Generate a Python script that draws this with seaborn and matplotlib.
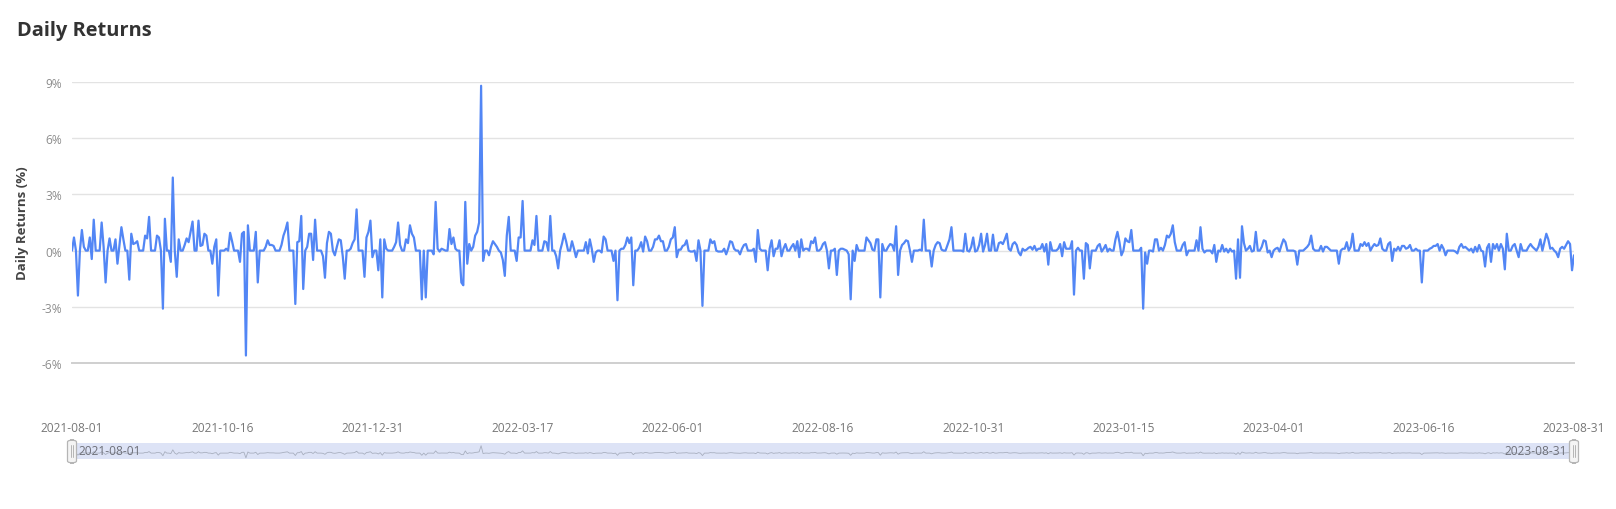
import seaborn as sns
import matplotlib.pyplot as plt
import matplotlib.dates as mdates
from matplotlib.patches import FancyBboxPatch
import pandas as pd
import numpy as np

# daily returns in % (2021-08-01 .. 2023-08-31)
returns_2021_q3 = [
    0, 0.7, 0, -2.4, 0, 1.1, 0.2, 0, 0, 0.7,
    -0.45, 1.65, 0, 0, 0, 1.5, 0.2, -1.7, 0, 0.65,
    0, 0, 0.6, -0.7, 0.3, 1.25, 0.6, 0, 0, -1.55,
    0.9, 0.35, 0.4, 0.5, 0, 0, 0, 0.8, 0.65, 1.8,
    0, 0, 0, 0.8, 0.7, 0, -3.1, 1.7, 0, 0,
    -0.6, 3.9, 0, -1.4, 0.6, 0, 0, 0.3, 0.65, 0.45,
    1.0, 1.55, 0, 0, 1.6, 0.25, 0.3, 0.9, 0.8, 0,
    0, -0.7, 0.2, 0.6, -2.4, 0, 0, 0, 0.1, 0,
    0.95, 0.5, 0, 0, 0, -0.6, 0.9, 1.0, -5.6, 1.35,
    0, 0, 0, 1.0, -1.7,
]
returns_2021_q4 = [
    0, 0, 0, 0.2, 0.55, 0.3, 0.3, 0.25, 0, 0,
    0, 0.3, 0.8, 1.1, 1.5, 0, 0, 0, -2.85, 0.45,
    0.5, 1.85, -2.05, 0, 0.2, 0.9, 0.9, -0.5, 1.65, 0,
    0, 0, -0.3, -1.45, 0.4, 1.0, 0.9, 0, -0.25, 0.2,
    0.6, 0.55, -0.3, -1.5, 0, 0, 0.1, 0.4, 0.6, 2.2,
    0, 0, 0, -1.4, 0.7, 1.0, 1.6, -0.35, 0, 0,
    -1.05, 0.6, -2.5, 0.6, 0.1, 0, 0, 0, 0.2, 0.45,
    1.5, 0.3, 0, 0, 0.6, 0.4, 1.35, 0.9, 0.7, 0,
    0, 0, -2.6, 0, -2.5, 0, 0, 0, -0.2, 2.6,
    0.1, -0.05, 0.1, 0.05, 0, 0, 1.15,
]
returns_2022_a = [
    0.35, 0.7, 0.1, 0, 0, -1.7, -1.85, 2.6, -0.7, 0.35,
    0, 0.2, 0.8, 1.0, 1.5, 8.8, -0.55, 0, 0, -0.25,
    0.2, 0.5, 0.35, 0.2, 0, -0.1, -0.5, -1.35, 0.8, 1.8,
    0, 0, 0, -0.55, 0.7, 0.7, 2.65, 0, 0, 0,
    0, 0.55, 0.3, 1.85, 0, 0, 0, 0.5, 0.45, 0,
    1.85, 0, 0, -0.3, -0.95, 0, 0.4, 0.9, 0.5, 0,
    0, 0.5, 0.1, -0.35, 0, 0, 0, 0, 0.45, -0.15,
    0.6, 0.1, -0.6, -0.1, 0, 0, -0.1, 0.75, 0.6, 0,
    0, 0, -0.55, 0, -2.65, 0, 0.1, 0.1, 0.3, 0.7,
    0.4, 0.7, -1.85, 0, 0, 0.15,
]
returns_2022_b = [
    0.45, -0.05, 0.75, 0.5, 0, 0, 0.2, 0.6, 0.6, 0.8,
    0.5, 0.5, 0, 0, 0.2, 0.6, 0.7, 1.25, -0.35, 0.05,
    0.05, 0.25, 0.3, 0.55, 0, -0.05, -0.05, 0, -0.55, 0.55,
    0, -2.95, 0, 0, 0, 0.6, 0.4, 0.5, 0, -0.05,
    -0.05, -0.05, 0.1, -0.2, 0.1, 0.5, 0.45, 0.1, 0, 0,
    -0.2, 0.1, 0.3, 0.35, 0, 0, 0, 0.1, -0.6, 1.1,
    0.1, 0, 0, 0, -1.05, 0.1, 0.55, -0.3, 0.1, 0.1,
    0.55, -0.3, 0.1, 0.35, 0, 0, 0.2, 0.35, 0, 0.5,
    -0.35, 0.6, 0, 0.1, 0.1, 0, 0.5, 0.4, 0.7, 0,
    0, 0.1, 0.35, 0.45, 0, -0.95,
]
returns_2022_c = [
    0, 0, 0.1, -1.3, 0, 0.1, 0.1, 0.05, 0, -0.2,
    -2.6, 0, -0.55, 0.3, 0, 0, 0, 0, 0.7, 0.55,
    0.4, 0.05, 0, 0.6, 0.6, -2.5, 0.35, 0, 0, 0.2,
    0.35, 0.3, 0, 1.3, -1.3, 0, 0.3, 0.4, 0.55, 0.5,
    0, -0.6, 0, 0, 0, 0.05, 0, 1.65, 0, 0,
    0, -0.85, 0, 0.3, 0.45, 0.4, 0.05, 0, 0, 0.3,
    0.6, 1.25, 0, 0, 0, 0, 0, -0.05, 0.9, 0,
    -0.05, 0.2, 0.7, -0.05, 0, 0.3, 0.9, -0.05, 0.3, 0.9,
    0, 0, 0.85, 0, 0, 0.4, 0.45, 0.35, 0.6, 0.9,
    0.1, 0, 0.35, 0.45, 0.3, -0.1,
]
returns_2023_a = [
    -0.25, 0.1, 0, 0.05, 0.15, 0.2, 0.05, 0.25, 0, 0.1,
    0.1, 0.35, -0.05, 0.35, -0.75, 0.45, 0, 0, 0, 0.1,
    0.35, -0.3, 0.45, 0.1, 0.1, 0.1, 0.5, -2.35, 0, 0.15,
    0, 0, -1.5, 0.4, 0.3, -0.95, 0, 0, 0, 0.25,
    0.35, -0.05, 0.1, 0.3, -0.05, 0.1, 0, 0, 0.6, 1.0,
    0.45, -0.25, 0, 0.65, 0.5, 0.45, 1.1, 0, 0, 0,
    0, 0.15, -3.1, -0.1, -0.7, 0, 0, -0.05, 0.6, 0.6,
    0, 0.15, 0, 0.3, 0.8, 0.7, 0.9, 1.35, 0.45, 0,
    0, 0, 0.3, 0.45, -0.25, 0, 0, 0, 0, 0.55,
    0, 1.25, 0.1, -0.1, 0, 0,
]
returns_2023_b = [
    0, -0.15, 0.3, -0.6, 0, -0.05, 0.3, -0.05, 0.1, -0.1,
    0.1, -0.05, 0, -1.5, 0.6, -1.45, 1.3, 0.4, 0, 0.1,
    0.25, -0.05, 0, 1.0, 0, 0, 0.2, 0.55, 0.5, -0.1,
    0, -0.35, 0, 0.1, 0.15, -0.05, 0.3, 0.6, 0.45, 0,
    0, 0, 0, -0.05, -0.75, 0, 0, 0, 0.1, 0.2,
    0.35, 0.8, 0.1, 0, 0, 0, 0.25, -0.05, 0.2, 0.2,
    0.1, 0, 0, 0, 0, -0.7, 0, 0.1, 0.1, 0.45,
    0, 0.2, 0.9, 0, 0, 0, 0.35, 0.25, 0.45, 0.25,
    0.4, 0, 0.2, 0.35, 0.25, 0.3, 0.65, 0.1, 0, 0,
    0.35, 0.45, -0.55, 0.1, 0, 0.2,
]
returns_2023_c = [
    0, 0.25, 0.25, 0.1, 0.15, 0.3, 0, 0, 0.1, 0,
    0, -1.7, 0, 0, 0, 0.1, 0.15, 0.25, 0.25, 0.35,
    0, 0.3, 0.1, -0.25, 0, 0, 0, 0, -0.05, -0.15,
    0.2, 0.35, 0.15, 0.2, 0.1, 0, 0.1, -0.1, 0.2, -0.05,
    0.3, 0, -0.05, -0.85, 0.15, 0.35, -0.6, 0.35, 0.1, 0.35,
    0, 0.35, 0.1, -1.0, 0.9, 0, 0, 0.25, 0.35, 0,
    -0.35, 0.35, 0, 0, 0, 0.2, 0.35, 0.2, 0.1, 0,
    0.2, 0.6, 0, 0.45, 0.9, 0.6, 0.1, 0.15, 0, -0.1,
    -0.35, 0.1, 0.2, 0.1, 0.3, 0.5, 0.35, -1.05, -0.25,
]

start_date = "2021-08-01"
y_ticks = [-6, -3, 0, 3, 6, 9]
label_step = 76

returns = (returns_2021_q3 + returns_2021_q4 + returns_2022_a + returns_2022_b
           + returns_2022_c + returns_2023_a + returns_2023_b + returns_2023_c)
df = pd.DataFrame({
    "date": pd.date_range(start_date, periods=len(returns), freq="D"),
    "ret": returns,
})

sns.set_theme(style="white")
plt.rcParams['font.family'] = ['Open Sans', 'DejaVu Sans']

W, H = 1616, 510
fig = plt.figure(figsize=(W / 100, H / 100), dpi=100)
L, R, T, B = 72, 1574, 83, 364
ax = fig.add_axes([L / W, 1 - B / H, (R - L) / W, (B - T) / H])

sns.lineplot(data=df, x="date", y="ret", ax=ax, color="#5286f5", linewidth=1.6)

ax.set_xlim(df["date"].iloc[0], df["date"].iloc[-1])
ax.set_ylim(-6, 9)
ax.set_yticks(y_ticks)
ax.set_yticklabels([f"{t}%" for t in y_ticks])
ax.yaxis.grid(True, color="#e3e3e3", linewidth=1)
ax.xaxis.grid(False)
for s in ["top", "right", "left"]:
    ax.spines[s].set_visible(False)
ax.spines["bottom"].set_color("#cfcfcf")
ax.spines["bottom"].set_linewidth(1.4)

tick_dates = df["date"].iloc[::label_step]
ax.set_xticks(tick_dates)
ax.xaxis.set_major_formatter(mdates.DateFormatter("%Y-%m-%d"))
ax.tick_params(axis="x", length=4, width=1, color="#cfcfcf", pad=38,
               labelsize=8.6, labelcolor="#777777")
ax.tick_params(axis="y", length=0, pad=7, labelsize=8.6, labelcolor="#8c8c8c")
ax.set_xlabel("")
ax.set_ylabel("Daily Returns (%)", fontsize=9.5, fontweight="bold",
              color="#444444", labelpad=9)

fig.text(17 / W, 1 - 31 / H, "Daily Returns", fontsize=14.4, fontweight="bold",
         color="#333333", va="center", ha="left")

# data zoom slider
sl = fig.add_axes([L / W, 1 - 460 / H, (R - L) / W, 16 / H])
sns.lineplot(data=df, x="date", y="ret", ax=sl, color="#a8afbf", linewidth=0.6)
sl.set_xlim(df["date"].iloc[0], df["date"].iloc[-1])
sl.set_ylim(-7, 12)
sl.set_facecolor("#dde3f6")
sl.set_xticks([])
sl.set_yticks([])
sl.set_xlabel("")
sl.set_ylabel("")
for s in sl.spines.values():
    s.set_visible(False)

for hx in (L, R):
    hp = FancyBboxPatch(((hx - 4.5) / W, 1 - 464 / H), 9 / W, 23 / H,
                        boxstyle="round,pad=0,rounding_size=0.004",
                        transform=fig.transFigure, facecolor="#f4f4f4",
                        edgecolor="#b5b5b5", linewidth=0.9)
    fig.add_artist(hp)
    for dx in (-1.3, 1.3):
        fig.add_artist(plt.Line2D([(hx + dx) / W] * 2, [1 - 458 / H, 1 - 446 / H],
                                  transform=fig.transFigure, color="#b5b5b5", linewidth=0.7))

fig.text(78 / W, 1 - 452 / H, df["date"].iloc[0].strftime("%Y-%m-%d"),
         fontsize=8.6, color="#6e7079", va="center", ha="left")
fig.text(1567 / W, 1 - 452 / H, df["date"].iloc[-1].strftime("%Y-%m-%d"),
         fontsize=8.6, color="#6e7079", va="center", ha="right")

fig.savefig("out.png", dpi=100, facecolor="white")
